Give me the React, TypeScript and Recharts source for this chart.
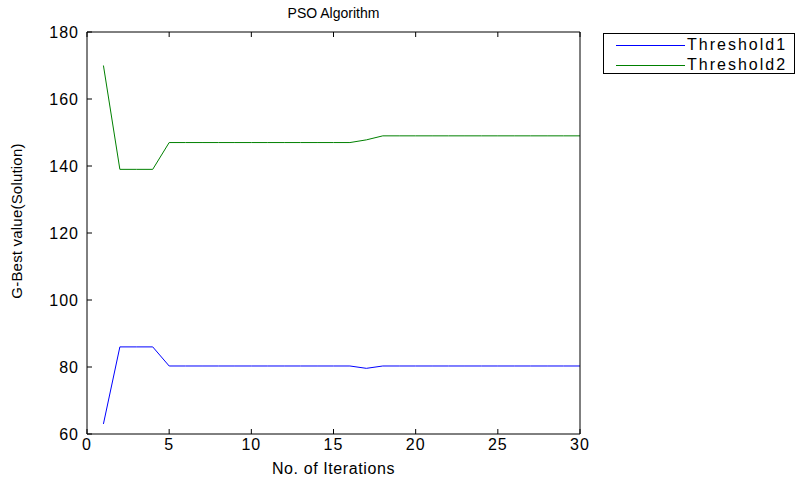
import { LineChart, Line, XAxis, YAxis } from 'recharts';

const iterations = [1, 2, 3, 4, 5, 6, 7, 8, 9, 10, 11, 12, 13, 14, 15, 16, 17, 18, 19, 20, 21, 22, 23, 24, 25, 26, 27, 28, 29, 30];
const threshold1 = [63, 86, 86, 86, 80.3, 80.3, 80.3, 80.3, 80.3, 80.3, 80.3, 80.3, 80.3, 80.3, 80.3, 80.3, 79.6, 80.3, 80.3, 80.3, 80.3, 80.3, 80.3, 80.3, 80.3, 80.3, 80.3, 80.3, 80.3, 80.3];
const threshold2 = [170, 139, 139, 139, 147, 147, 147, 147, 147, 147, 147, 147, 147, 147, 147, 147, 147.8, 149, 149, 149, 149, 149, 149, 149, 149, 149, 149, 149, 149, 149];
const xTicks = [0, 5, 10, 15, 20, 25, 30];
const yTicks = [60, 80, 100, 120, 140, 160, 180];

const data = iterations.map((it, i) => ({ it, t1: threshold1[i], t2: threshold2[i] }));

const font = '"Liberation Sans", Arial, sans-serif';
const tickStyle = { fill: '#000', fontSize: 16, letterSpacing: 1 };

function LegendBox() {
  const items = [
    { name: 'Threshold1', color: '#0000ff' },
    { name: 'Threshold2', color: '#008000' },
  ];
  return (
    <div style={{ position: 'absolute', left: 603, top: 33, border: '1px solid #000', background: '#fff', width: 192, height: 41, fontFamily: font, fontSize: 16, letterSpacing: 2, paddingTop: 1, boxSizing: 'border-box' }}>
      {items.map((item) => (
        <div key={item.name} style={{ display: 'flex', alignItems: 'center', height: 20 }}>
          <svg width={81} height={20} style={{ display: 'block' }}>
            <line x1={12} x2={81} y1={10.5} y2={10.5} stroke={item.color} strokeWidth={1} />
          </svg>
          <span style={{ marginLeft: 2, color: '#000', lineHeight: '20px' }}>{item.name}</span>
        </div>
      ))}
    </div>
  );
}

export default function App() {
  return (
    <div style={{ position: 'absolute', left: 0, top: 0, width: 798, height: 480, background: '#fff', fontFamily: font }}>
      <div style={{ position: 'absolute', left: 87, width: 493, top: 5, textAlign: 'center', fontSize: 14, color: '#000' }}>PSO Algorithm</div>
      <LineChart width={798} height={480} data={data} margin={{ top: 31, right: 217, left: 17, bottom: 0 }}>
        <XAxis dataKey="it" type="number" domain={[0, 30]} ticks={xTicks} interval={0} stroke="#000"
          tickSize={-5} tickMargin={10} tick={tickStyle} height={46}
          label={{ value: 'No. of Iterations', position: 'insideBottom', offset: 6, fill: '#000', fontSize: 16, style: { letterSpacing: 0.6 } }} />
        <XAxis xAxisId="top" orientation="top" dataKey="it" type="number" domain={[0, 30]} ticks={xTicks} interval={0} stroke="#000"
          tickSize={-5} tickFormatter={() => ''} height={1} />
        <YAxis domain={[60, 180]} ticks={yTicks} interval={0} stroke="#000" width={70}
          tickSize={-5} tickMargin={13} tick={tickStyle}
          label={() => (
            <text x={22} y={221} transform="rotate(-90 22 221)" textAnchor="middle" fill="#000" fontSize={15} style={{ letterSpacing: 0.2 }}>
              G-Best value(Solution)
            </text>
          )} />
        <YAxis yAxisId="right" orientation="right" domain={[60, 180]} ticks={yTicks} interval={0} stroke="#000" width={1}
          tickSize={-5} tickFormatter={() => ''} />
        <Line dataKey="t1" name="Threshold1" stroke="#0000ff" strokeWidth={1} dot={false} isAnimationActive={false} type="linear" />
        <Line dataKey="t2" name="Threshold2" stroke="#008000" strokeWidth={1} dot={false} isAnimationActive={false} type="linear" />
      </LineChart>
      <LegendBox />
    </div>
  );
}
